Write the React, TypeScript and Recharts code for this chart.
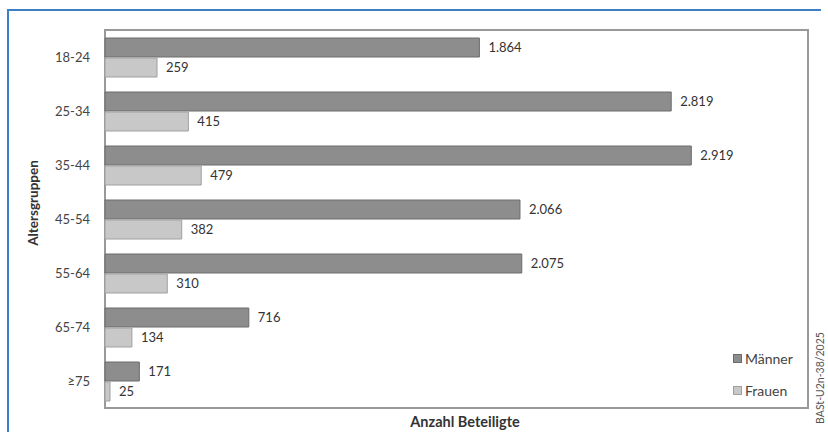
import React from 'react';
import { BarChart, Bar, XAxis, YAxis, LabelList, ReferenceArea } from 'recharts';

// Age groups and number of people involved, by sex
const ageGroups = ['18-24', '25-34', '35-44', '45-54', '55-64', '65-74', '≥75'];
const maenner = [1864, 2819, 2919, 2066, 2075, 716, 171];
const frauen = [259, 415, 479, 382, 310, 134, 25];
const seriesNames = ['Männer', 'Frauen'];
const xMax = 3500;

const data = ageGroups.map((g, i) => ({ group: g, Männer: maenner[i], Frauen: frauen[i] }));

const FONT = 'Lato, "Open Sans", "DejaVu Sans", sans-serif';
const MALE_FILL = '#8d8d8d';
const MALE_STROKE = '#6c6c6c';
const FEMALE_FILL = '#c8c8c8';
const FEMALE_STROKE = '#a0a0a0';
const seriesColors = [
  { fill: MALE_FILL, stroke: MALE_STROKE },
  { fill: FEMALE_FILL, stroke: FEMALE_STROKE },
];

const fmt = (v: number) => v.toLocaleString('de-DE');

const LegendBox = () => (
  <div
    style={{
      position: 'absolute',
      left: 733,
      top: 350,
      width: 85,
      fontFamily: FONT,
      fontSize: 14,
      color: '#444',
    }}
  >
    {seriesNames.map((name, i) => (
      <div key={name} style={{ display: 'flex', alignItems: 'center', height: 16, marginTop: i === 0 ? 0 : 16 }}>
        <span
          style={{
            display: 'inline-block',
            width: 7,
            height: 7,
            background: seriesColors[i].fill,
            border: `1px solid ${seriesColors[i].stroke}`,
            marginRight: 3,
          }}
        />
        <span>{name}</span>
      </div>
    ))}
  </div>
);

export default function App() {
  return (
    <div style={{ position: 'absolute', left: 0, top: 0, width: 828, height: 432, background: '#fff', overflow: 'hidden' }}>
      {/* blue frame: top and left edges */}
      <div
        style={{
          position: 'absolute',
          left: 7,
          top: 9,
          width: 812,
          height: 440,
          borderTop: '2px solid #3d7fc6',
          borderLeft: '2px solid #3d7fc6',
        }}
      />
      <BarChart
        width={828}
        height={432}
        data={data}
        layout="vertical"
        margin={{ top: 30, right: 20, bottom: 24, left: 0 }}
        barSize={19}
        barGap={1}
        style={{ position: 'absolute', left: 0, top: 0 }}
      >
        <XAxis type="number" domain={[0, xMax]} hide />
        <YAxis
          type="category"
          dataKey="group"
          width={105}
          axisLine={false}
          tickLine={false}
          tickMargin={9}
          tick={{ fontFamily: FONT, fontSize: 13, fill: '#444' }}
        />
        <ReferenceArea x1={0} x2={xMax} fill="none" stroke="#999" strokeWidth={2} ifOverflow="visible" />
        <Bar dataKey="Männer" fill={MALE_FILL} stroke={MALE_STROKE} strokeWidth={1} isAnimationActive={false}>
          <LabelList
            dataKey="Männer"
            position="right"
            offset={9}
            formatter={(v: number) => fmt(v)}
            style={{ fontFamily: FONT, fontSize: 13, fill: '#333' }}
          />
        </Bar>
        <Bar dataKey="Frauen" fill={FEMALE_FILL} stroke={FEMALE_STROKE} strokeWidth={1} isAnimationActive={false}>
          <LabelList
            dataKey="Frauen"
            position="right"
            offset={9}
            formatter={(v: number) => fmt(v)}
            style={{ fontFamily: FONT, fontSize: 13, fill: '#333' }}
          />
        </Bar>
      </BarChart>
      <LegendBox />
      <svg width={828} height={432} style={{ position: 'absolute', left: 0, top: 0, pointerEvents: 'none' }}>
        <text
          x={0}
          y={0}
          transform="translate(38,203) rotate(-90)"
          textAnchor="middle"
          fontFamily={FONT}
          fontSize={13.5}
          fontWeight={700}
          fill="#333"
        >
          Altersgruppen
        </text>
        <text x={465} y={427} textAnchor="middle" fontFamily={FONT} fontSize={14.5} fontWeight={700} fill="#333">
          Anzahl Beteiligte
        </text>
        <text
          x={0}
          y={0}
          transform="translate(824,378) rotate(-90)"
          textAnchor="middle"
          fontFamily={FONT}
          fontSize={10.5}
          fill="#555"
        >
          BASt-U2n-38/2025
        </text>
      </svg>
    </div>
  );
}
